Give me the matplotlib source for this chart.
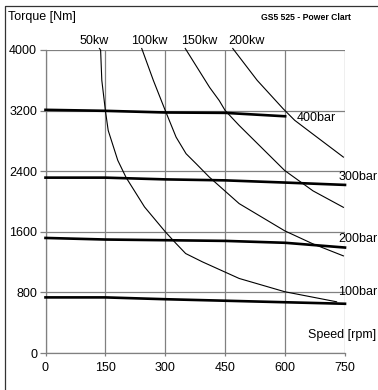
import matplotlib
matplotlib.use('Agg')
import matplotlib.pyplot as plt
from matplotlib.lines import Line2D

plt.rcParams['font.family'] = ['Liberation Sans', 'DejaVu Sans']

# pressure lines (torque vs speed)
bar_labels = ['400bar', '300bar', '200bar', '100bar']
bar_rpm = [
    [0, 150, 300, 450, 600],
    [0, 150, 300, 450, 600, 750],
    [0, 150, 300, 450, 600, 750],
    [0, 150, 300, 450, 600, 750],
]
bar_torque = [
    [3210, 3197, 3175, 3170, 3125],
    [2315, 2315, 2292, 2279, 2250, 2219],
    [1519, 1498, 1489, 1480, 1455, 1392],
    [734, 734, 710, 690, 670, 650],
]
bar_label_pos = [(628, 3098), (733, 2320), (733, 1503), (733, 800)]

# power curves
kw_labels = ['50kw', '100kw', '150kw', '200kw']
kw_rpm = [
    [135, 138, 141, 150, 157, 181, 202, 248, 300, 327, 351, 393, 485, 599, 729],
    [241, 270, 290, 300, 327, 352, 377, 410, 485, 599, 670, 746],
    [350, 411, 435, 450, 485, 599, 670, 746],
    [469, 530, 595, 624, 662, 746],
]
kw_torque = [
    [4020, 4000, 3600, 3200, 2938, 2543, 2315, 1928, 1600, 1445, 1313, 1203, 984, 809, 676],
    [4020, 3600, 3333, 3200, 2850, 2631, 2500, 2323, 1972, 1613, 1440, 1282],
    [4020, 3506, 3333, 3200, 3004, 2409, 2140, 1923],
    [4020, 3600, 3225, 3072, 2920, 2586],
]
kw_label_x = [123, 261, 386, 503]

xticks = [0, 150, 300, 450, 600, 750]
yticks = [0, 800, 1600, 2400, 3200, 4000]

fig = plt.figure(figsize=(3.78, 3.90), dpi=100)
ax = fig.add_axes([45.5/378, 1-353/390, 299.5/378, 303/390])

for r, t in zip(kw_rpm, kw_torque):
    ax.plot(r, t, color='black', lw=0.8, clip_on=False, zorder=3)
for r, t in zip(bar_rpm, bar_torque):
    ax.plot(r, t, color='black', lw=1.9, clip_on=False, zorder=4)

for lab, x in zip(kw_labels, kw_label_x):
    ax.text(x, 4075, lab, ha='center', va='baseline', fontsize=9)
for lab, (x, y) in zip(bar_labels, bar_label_pos):
    ax.text(x, y, lab, ha='left', va='center', fontsize=9)
ax.text(658, 234, 'Speed [rpm]', ha='left', va='center', fontsize=9)

ax.set_xlim(0, 750)
ax.set_ylim(0, 4000)
ax.set_xticks(xticks)
ax.set_yticks(yticks)
ax.grid(True, color='#808080', lw=0.9)
ax.set_axisbelow(True)
for s in ['top', 'right']:
    ax.spines[s].set_visible(False)
for s in ['left', 'bottom']:
    ax.spines[s].set_color('#808080')
    ax.spines[s].set_linewidth(0.9)
ax.tick_params(axis='y', length=4, width=0.9, color='#808080', pad=2, labelsize=9)
ax.tick_params(axis='x', length=2.5, width=0.9, color='#808080', pad=4, labelsize=9)

fig.text(8/378, 1-17/390, 'Torque [Nm]', ha='left', va='center', fontsize=9)
fig.text(306/378, 1-18/390, 'GS5 525 - Power Clart', ha='center', va='center',
         fontsize=6.2, fontweight='bold')

# outer frame (left and top edges only visible)
fig.add_artist(Line2D([5/378, 5/378, 1.0], [0.0, 1-6/390, 1-6/390],
                      transform=fig.transFigure, color='#333333', lw=0.9))

fig.savefig('out.png', dpi=100)
